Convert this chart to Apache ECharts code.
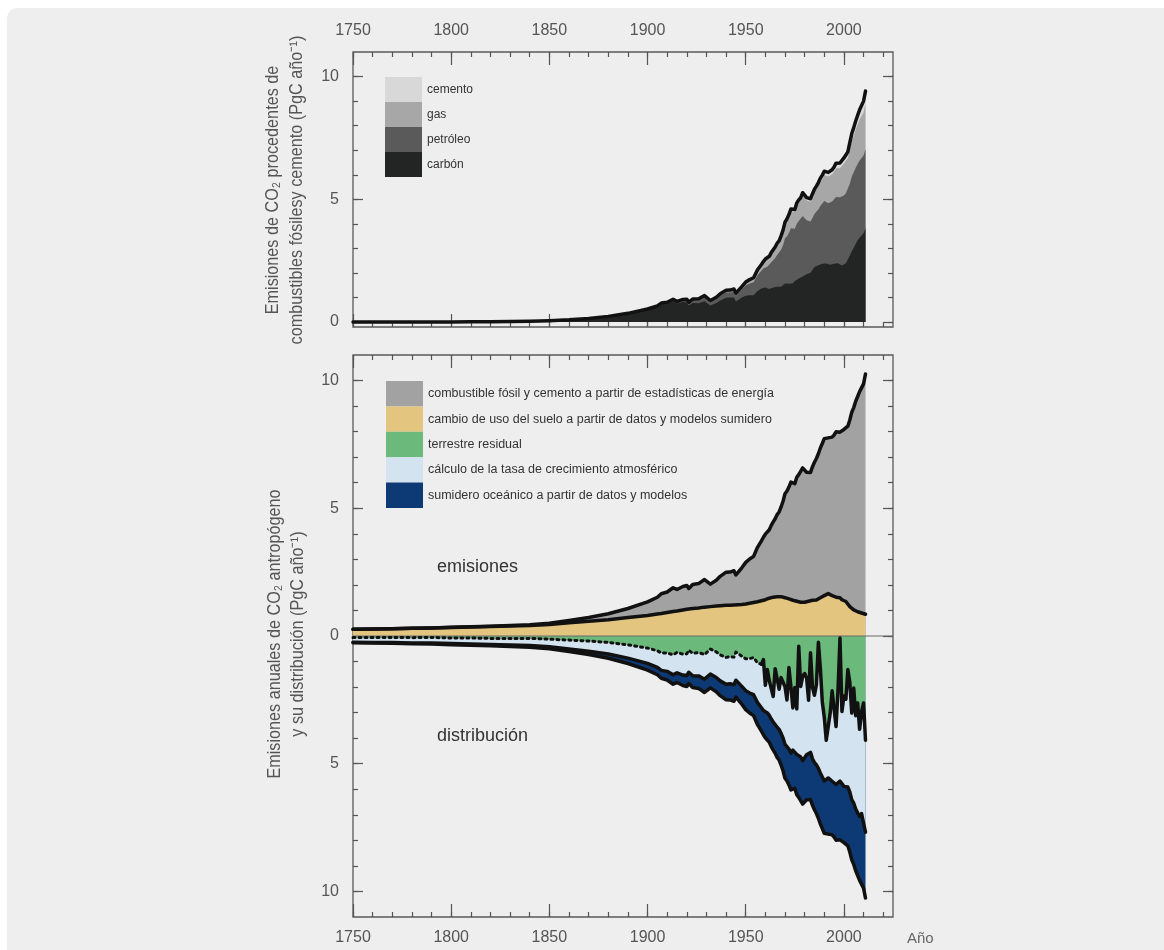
<!DOCTYPE html>
<html><head><meta charset="utf-8">
<script src="https://cdn.jsdelivr.net/npm/echarts@6/dist/echarts.min.js"></script>
<style>html,body{margin:0;padding:0;background:#ffffff;}#c{width:1164px;height:950px;}</style>
</head><body><div id="c"></div>
<script>
// ---------- data (PgC per year) ----------
const years = [1750,1760,1770,1780,1790,1800,1810,1820,1830,1840,1850,1860,1870,1880,1890,1900,1905,1907,1910,1913,1915,1918,1920,1921,1923,1926,1929,1932,1935,1937,1938,1940,1942,1944,1945,1946,1948,1950,1952,1954,1956,1958,
1959,1960,1961,1962,1963,1964,1965,1966,1967,1968,1969,1970,1971,1972,1973,1974,1975,1976,1977,1978,1979,1980,1981,1982,1983,1984,1985,1986,1987,1988,1989,1990,1991,1992,1993,1994,1995,1996,1997,1998,1999,2000,2001,2002,2003,2004,2005,2006,2007,2008,2009,2010,2011];

const coal = [0.003,0.003,0.004,0.005,0.006,0.008,0.010,0.014,0.024,0.033,0.054,0.091,0.146,0.230,0.345,0.507,0.620,0.730,0.740,0.850,0.760,0.820,0.800,0.680,0.780,0.770,0.850,0.680,0.780,0.880,0.850,0.990,1.000,1.000,0.840,0.880,1.000,1.070,1.090,1.090,1.270,1.370,
1.40,1.41,1.35,1.35,1.40,1.41,1.42,1.44,1.41,1.44,1.48,1.57,1.55,1.56,1.58,1.58,1.67,1.73,1.78,1.79,1.86,1.93,1.95,1.98,2.01,2.09,2.24,2.25,2.31,2.35,2.38,2.41,2.39,2.34,2.34,2.35,2.38,2.42,2.40,2.34,2.30,2.34,2.40,2.48,2.71,2.89,3.03,3.19,3.33,3.43,3.47,3.62,3.82];

const oil = [0,0,0,0,0,0,0,0,0,0,0,0,0.001,0.003,0.008,0.016,0.025,0.030,0.040,0.050,0.055,0.070,0.095,0.095,0.115,0.130,0.160,0.145,0.170,0.200,0.200,0.220,0.210,0.250,0.240,0.260,0.320,0.423,0.480,0.530,0.640,0.720,
0.78,0.85,0.90,0.97,1.04,1.11,1.19,1.29,1.38,1.51,1.65,1.84,1.95,2.08,2.24,2.19,2.13,2.28,2.34,2.38,2.46,2.34,2.20,2.14,2.09,2.15,2.16,2.25,2.28,2.38,2.43,2.52,2.54,2.50,2.51,2.56,2.60,2.67,2.72,2.74,2.76,2.82,2.85,2.85,2.92,3.04,3.07,3.10,3.11,3.15,3.08,3.16,3.22];

const gas = [0,0,0,0,0,0,0,0,0,0,0,0,0,0,0.003,0.010,0.012,0.015,0.020,0.022,0.022,0.025,0.028,0.027,0.035,0.040,0.055,0.045,0.050,0.060,0.060,0.070,0.075,0.085,0.090,0.090,0.105,0.120,0.140,0.160,0.190,0.220,
0.245,0.266,0.285,0.310,0.340,0.370,0.390,0.420,0.450,0.490,0.540,0.580,0.620,0.650,0.690,0.700,0.690,0.740,0.750,0.780,0.830,0.810,0.800,0.790,0.800,0.860,0.880,0.900,0.950,0.980,1.020,1.060,1.090,1.090,1.100,1.110,1.140,1.180,1.180,1.190,1.220,1.300,1.320,1.350,1.400,1.450,1.500,1.550,1.610,1.680,1.640,1.760,1.850];

const cement = [0,0,0,0,0,0,0,0,0,0,0,0,0,0,0,0,0,0,0.004,0.006,0.005,0.005,0.006,0.007,0.009,0.012,0.015,0.010,0.013,0.016,0.017,0.018,0.017,0.012,0.010,0.013,0.016,0.018,0.023,0.027,0.032,0.037,
0.040,0.043,0.045,0.049,0.051,0.057,0.059,0.063,0.065,0.070,0.074,0.078,0.084,0.089,0.095,0.096,0.095,0.103,0.108,0.116,0.119,0.120,0.121,0.121,0.125,0.128,0.131,0.137,0.143,0.152,0.156,0.157,0.161,0.167,0.176,0.186,0.197,0.203,0.209,0.209,0.217,0.226,0.237,0.252,0.276,0.298,0.320,0.350,0.375,0.385,0.410,0.460,0.520];

const landUse = [0.26,0.27,0.28,0.30,0.31,0.33,0.35,0.37,0.39,0.41,0.45,0.52,0.58,0.64,0.72,0.80,0.86,0.88,0.92,0.96,0.98,1.02,1.05,1.05,1.08,1.10,1.13,1.15,1.17,1.18,1.19,1.20,1.20,1.21,1.21,1.22,1.23,1.25,1.28,1.31,1.34,1.38,
1.40,1.42,1.45,1.48,1.50,1.52,1.53,1.54,1.55,1.54,1.53,1.50,1.47,1.45,1.42,1.40,1.38,1.36,1.34,1.32,1.31,1.32,1.34,1.36,1.38,1.40,1.39,1.41,1.45,1.50,1.55,1.58,1.62,1.66,1.62,1.58,1.55,1.52,1.55,1.50,1.42,1.40,1.35,1.28,1.15,1.08,1.02,1.00,0.95,0.92,0.90,0.87,0.85];

const oceanSink = [0.02,0.02,0.03,0.03,0.04,0.04,0.05,0.05,0.06,0.07,0.08,0.10,0.13,0.17,0.21,0.26,0.29,0.31,0.34,0.37,0.38,0.41,0.43,0.44,0.46,0.49,0.52,0.54,0.56,0.58,0.59,0.61,0.63,0.65,0.66,0.67,0.70,0.74,0.78,0.82,0.87,0.92,
0.95,1.00,1.02,1.05,1.08,1.10,1.15,1.18,1.20,1.24,1.28,1.33,1.37,1.40,1.45,1.50,1.55,1.58,1.62,1.65,1.70,1.75,1.76,1.80,1.85,1.82,1.85,1.90,1.95,2.00,2.02,2.05,2.15,2.20,2.15,2.10,2.15,2.18,2.25,2.30,2.20,2.20,2.25,2.30,2.35,2.35,2.40,2.42,2.45,2.50,2.55,2.55,2.58];

const atmGrowth = [0.18,0.19,0.20,0.21,0.22,0.22,0.23,0.24,0.26,0.28,0.30,0.35,0.40,0.45,0.52,0.60,0.65,0.68,0.72,0.78,0.80,0.82,0.85,0.86,0.88,0.92,0.96,0.98,1.00,1.02,1.03,1.05,1.06,1.08,1.10,1.12,1.18,1.25,1.35,1.45,1.55,1.70,
1.99,1.06,1.70,1.36,1.51,1.00,2.16,2.30,1.57,2.18,2.40,2.25,1.80,3.20,2.59,1.65,2.40,1.78,4.30,2.76,3.30,3.30,3.01,2.08,3.90,2.80,2.63,3.14,4.94,4.10,2.93,2.50,1.57,1.48,2.57,3.54,3.60,2.27,3.70,5.60,2.76,3.54,3.43,4.60,4.30,3.39,4.50,3.65,4.30,3.41,3.99,4.70,3.60];

const instrumentalStart = 1958;   // residual land sink drawn dotted before this year

// ---------- tick labels ----------
const xMajorTicks = [1750,1800,1850,1900,1950,2000];
const xMinorTicks = [1750,1760,1770,1780,1790,1800,1810,1820,1830,1840,1850,1860,1870,1880,1890,1900,1910,1920,1930,1940,1950,1960,1970,1980,1990,2000,2010,2020];
const yTopMajor = [0,5,10];
const yTopMinor = [0,1,2,3,4,5,6,7,8,9,10];
const yBotMajor = [-10,-5,0,5,10];
const yBotMinor = [-10,-9,-8,-7,-6,-5,-4,-3,-2,-1,0,1,2,3,4,5,6,7,8,9,10];

const topLegend = ['cemento','gas','petróleo','carbón'];
const botLegend = ['combustible fósil y cemento a partir de estadísticas de energía',
  'cambio de uso del suelo a partir de datos y modelos sumidero',
  'terrestre residual',
  'cálculo de la tasa de crecimiento atmosférico',
  'sumidero oceánico a partir de datos y modelos'];

// ---------- derived stacks ----------
const r = v => Math.round(v*10000)/10000;
const fossil = years.map((_, i) => coal[i] + oil[i] + gas[i] + cement[i]);
const cCoal = coal.slice();
const cOil = years.map((_, i) => coal[i] + oil[i]);
const cGas = years.map((_, i) => coal[i] + oil[i] + gas[i]);
const total = years.map((_, i) => fossil[i] + landUse[i]);
const residual = years.map((_, i) => total[i] - atmGrowth[i] - oceanSink[i]);
const b1 = residual.map(v => -v);
const b2 = years.map((_, i) => -(residual[i] + atmGrowth[i]));
const b3 = total.map(v => -v);
const P = arr => years.map((y, i) => [y, r(arr[i])]);
const Pcut = (arr, f) => years.map((y, i) => [y, f(y) ? r(arr[i]) : null]);

const COLORS = {
  cemento:'#d8d8d8', gas:'#a7a7a7', petroleo:'#5a5a5a', carbon:'#232524',
  fossil:'#a2a2a2', luc:'#e4c57f', resid:'#6bba7c', atm:'#d3e3ef', ocean:'#0d3a75'
};
const FONT = "'Liberation Sans', Arial, sans-serif";
const TICK = '#555';
const LW = 3.5;

function area(name, xi, yi, data, color) {
  return { name, type:'line', xAxisIndex:xi, yAxisIndex:yi, data, symbol:'none', showSymbol:false,
    color, lineStyle:{width:0, color}, areaStyle:{color, opacity:1}, silent:true, z:2 };
}
function bline(name, xi, yi, data, width, type) {
  return { name, type:'line', xAxisIndex:xi, yAxisIndex:yi, data, symbol:'none', showSymbol:false,
    connectNulls:false, lineStyle:{width, color:'#111', type: type || 'solid', join:'round', cap:'round'}, silent:true, z:5 };
}

function xAx(grid, pos, ticks, len, labels) {
  return { type:'value', gridIndex:grid, position:pos, min:1750, max:2025,
    axisLine:{show:false, onZero:false}, splitLine:{show:false},
    axisTick:{show:true, inside:true, length:len, customValues:ticks, lineStyle:{color:TICK, width:1.2}},
    axisLabel:{show:labels, customValues:ticks, color:'#555', fontSize:16, fontFamily:FONT, margin:13,
      formatter: v => String(v)} };
}
function yAx(grid, pos, ticks, len, labels, min, max) {
  return { type:'value', gridIndex:grid, position:pos, min, max,
    axisLine:{show:false, onZero:false}, splitLine:{show:false},
    axisTick:{show:true, inside:true, length:len, customValues:ticks, lineStyle:{color:TICK, width:1.2}},
    axisLabel:{show:labels, customValues:ticks, color:'#555', fontSize:16, fontFamily:FONT, margin:14,
      formatter: v => String(Math.abs(v))} };
}
function vtitle(text, x, y) {
  return {type:'text', x, y, rotation:Math.PI/2, scaleX:0.9, silent:true,
    style:{text, fill:'#555', font:'18px '+FONT, align:'center', verticalAlign:'middle'}};
}

const chart = echarts.init(document.getElementById('c'), null, {renderer:'canvas'});
chart.setOption({
  animation:false,
  backgroundColor:'transparent',
  grid:[
    {left:353, top:52, width:540, height:275, show:true, borderColor:'#5a5a5a', borderWidth:1.3, backgroundColor:'transparent'},
    {left:353, top:355, width:540, height:562, show:true, borderColor:'#5a5a5a', borderWidth:1.3, backgroundColor:'transparent'}
  ],
  xAxis:[
    xAx(0,'top',xMajorTicks,13,true), xAx(0,'top',xMinorTicks,5,false),
    xAx(0,'bottom',xMajorTicks,13,false), xAx(0,'bottom',xMinorTicks,5,false),
    xAx(1,'top',xMajorTicks,13,false), xAx(1,'top',xMinorTicks,5,false),
    xAx(1,'bottom',xMajorTicks,13,true), xAx(1,'bottom',xMinorTicks,5,false)
  ],
  yAxis:[
    yAx(0,'left',yTopMajor,10,true,-0.2,11), yAx(0,'left',yTopMinor,5,false,-0.2,11),
    yAx(0,'right',yTopMajor,10,false,-0.2,11), yAx(0,'right',yTopMinor,5,false,-0.2,11),
    yAx(1,'left',yBotMajor,10,true,-11,11), yAx(1,'left',yBotMinor,5,false,-11,11),
    yAx(1,'right',yBotMajor,10,false,-11,11), yAx(1,'right',yBotMinor,5,false,-11,11)
  ],
  legend:[
    { selectedMode:false, orient:'vertical', left:385, top:77, padding:0, itemWidth:37, itemHeight:25, itemGap:0, icon:'rect',
      textStyle:{color:'#333', fontSize:12, fontFamily:FONT},
      data:[
        {name:topLegend[0], itemStyle:{color:COLORS.cemento}},
        {name:topLegend[1], itemStyle:{color:COLORS.gas}},
        {name:topLegend[2], itemStyle:{color:COLORS.petroleo}},
        {name:topLegend[3], itemStyle:{color:COLORS.carbon}}
      ]},
    { selectedMode:false, orient:'vertical', left:386, top:381, padding:0, itemWidth:37, itemHeight:25.4, itemGap:0, icon:'rect',
      textStyle:{color:'#333', fontSize:12.5, fontFamily:FONT},
      data:[
        {name:botLegend[0], itemStyle:{color:COLORS.fossil}},
        {name:botLegend[1], itemStyle:{color:COLORS.luc}},
        {name:botLegend[2], itemStyle:{color:COLORS.resid}},
        {name:botLegend[3], itemStyle:{color:COLORS.atm}},
        {name:botLegend[4], itemStyle:{color:COLORS.ocean}}
      ]}
  ],
  graphic:[
    {type:'rect', z:-10, silent:true, shape:{x:7, y:8, width:1170, height:960, r:10}, style:{fill:'#efeeef'}},
    vtitle('Emisiones de CO₂ procedentes de', 273, 190),
    vtitle('combustibles fósilesy cemento (PgC año⁻¹)', 297, 190),
    vtitle('Emisiones anuales de CO₂ antropógeno', 275, 634),
    vtitle('y su distribución (PgC año⁻¹)', 298, 634),
    {type:'text', x:437, y:567, silent:true,
      style:{text:'emisiones', fill:'#333', font:'18px '+FONT, align:'left', verticalAlign:'middle'}},
    {type:'text', x:437, y:736, silent:true,
      style:{text:'distribución', fill:'#333', font:'18px '+FONT, align:'left', verticalAlign:'middle'}},
    {type:'text', x:907, y:939, silent:true,
      style:{text:'Año', fill:'#666', font:'15px '+FONT, align:'left', verticalAlign:'middle'}}
  ],
  series:[
    // top panel
    area(topLegend[0], 0, 0, P(fossil), COLORS.cemento),
    area(topLegend[1], 0, 0, P(cGas), COLORS.gas),
    area(topLegend[2], 0, 0, P(cOil), COLORS.petroleo),
    area(topLegend[3], 0, 0, P(cCoal), COLORS.carbon),
    bline('_fossilTotal', 0, 0, P(fossil), LW),
    // bottom panel
    area(botLegend[4], 6, 4, P(b3), COLORS.ocean),
    area(botLegend[3], 6, 4, P(b2), COLORS.atm),
    area(botLegend[2], 6, 4, P(b1), COLORS.resid),
    area(botLegend[0], 6, 4, P(total), COLORS.fossil),
    area(botLegend[1], 6, 4, P(landUse), COLORS.luc),
    { name:'_zero', type:'line', xAxisIndex:6, yAxisIndex:4, data:[[1750,0],[2025,0]], symbol:'none',
      lineStyle:{color:'#6a6a6a', width:1.2}, silent:true, z:4 },
    bline('_total', 6, 4, P(total), LW),
    bline('_luc', 6, 4, P(landUse), LW),
    bline('_b3', 6, 4, P(b3), LW),
    bline('_b2', 6, 4, P(b2), LW),
    bline('_b1solid', 6, 4, Pcut(b1, y => y >= instrumentalStart), LW),
    bline('_b1dot', 6, 4, Pcut(b1, y => y <= instrumentalStart), 3, [2,4])
  ]
});
</script></body></html>
